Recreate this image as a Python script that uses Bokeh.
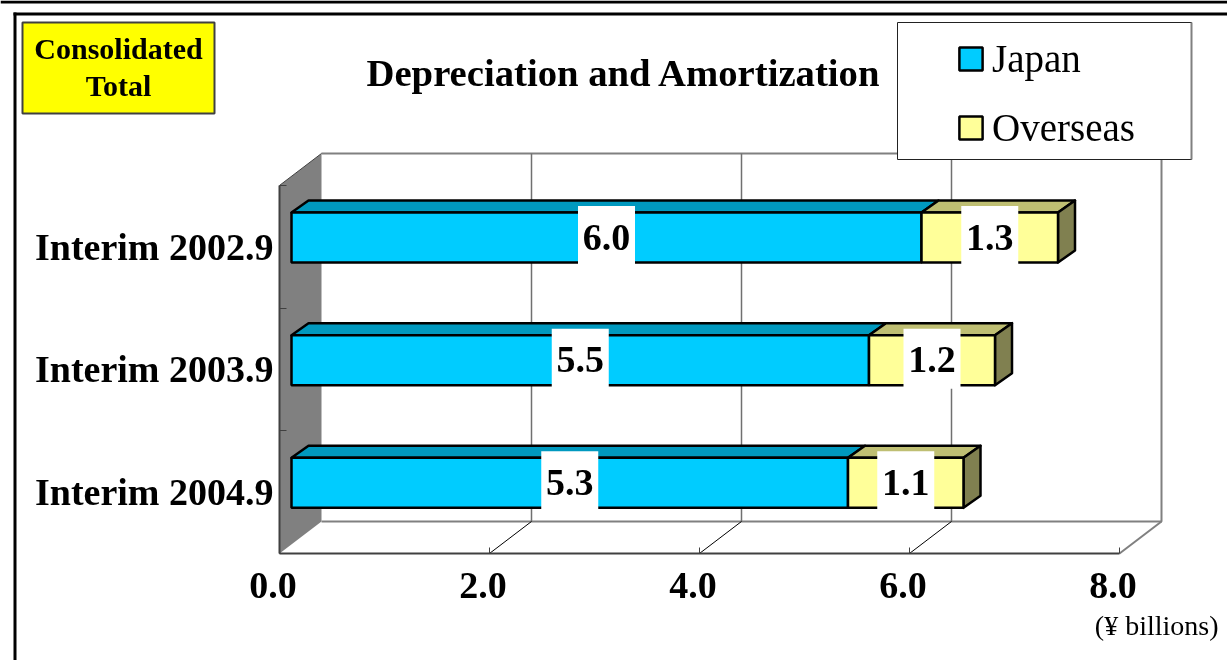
from bokeh.plotting import figure
from bokeh.embed import file_html
from bokeh.resources import INLINE
from bokeh.core.properties import value
from bokeh.models import (Range1d, LinearAxis, FixedTicker, NumeralTickFormatter,
                          Legend, LegendItem, ColumnDataSource)

# ---- data ----
periods = ["Interim 2002.9", "Interim 2003.9", "Interim 2004.9"]
japan = [6.0, 5.5, 5.3]
overseas = [1.3, 1.2, 1.1]
x_ticks = [0, 2, 4, 6, 8]
title_text = "Depreciation and Amortization"
badge_lines = ["Consolidated", "Total"]
unit_text = "(¥ billions)"

# ---- page-to-data mapping ----
W, H = 1227, 660
PX_X0, PX_PER_UNIT = 279.0, 105.0      # pixel of value 0, pixels per ¥ billion
PX_Y0, PX_PER_CAT = 246.3, 122.67      # pixel of first category, pixels per category
def X(px): return (px - PX_X0) / PX_PER_UNIT
def Y(px): return (px - PX_Y0) / PX_PER_CAT
def DX(px): return px / PX_PER_UNIT
def DY(px): return px / PX_PER_CAT

SERIF = "Liberation Serif"
FS = value(SERIF)
p = figure(width=W, height=H, output_backend="svg", toolbar_location=None,
           x_range=Range1d(X(0), X(W)), y_range=Range1d(Y(H), Y(0)),
           x_axis_type=None, y_axis_type=None, min_border=0,
           outline_line_color=None, background_fill_color="white",
           border_fill_color="white")
p.grid.visible = False
p.styles = {"position": "fixed", "left": "0", "top": "0"}

# page rules
for l, r, t, b in [(0, W, 0, 3), (13, W, 12, 15), (13, 16, 12, H)]:
    p.quad(left=X(l), right=X(r), top=Y(t), bottom=Y(b), fill_color="black", line_color=None)

# ---- 3D box ----
n = len(periods)
DEPTH_X, DEPTH_Y = 42, 32
AX_L, AX_B, AX_T = 0, n - 0.5, -0.5
GRAY = "#808080"
# left wall
p.patch([AX_L, AX_L + DX(DEPTH_X), AX_L + DX(DEPTH_X), AX_L],
        [AX_T, AX_T - DY(DEPTH_Y), AX_B - DY(DEPTH_Y), AX_B],
        fill_color=GRAY, line_color=None)
# back wall outline & floor edge
xb = [AX_L + DX(DEPTH_X), x_ticks[-1] + DX(DEPTH_X), x_ticks[-1] + DX(DEPTH_X), AX_L + DX(DEPTH_X)]
yb = [AX_T - DY(DEPTH_Y), AX_T - DY(DEPTH_Y), AX_B - DY(DEPTH_Y), AX_B - DY(DEPTH_Y)]
p.line(xb, yb, line_color=GRAY, line_width=2)
p.line([x_ticks[-1], x_ticks[-1] + DX(DEPTH_X)], [AX_B, AX_B - DY(DEPTH_Y)], line_color=GRAY, line_width=2)
p.line([AX_L, AX_L + DX(DEPTH_X)], [AX_T, AX_T - DY(DEPTH_Y)], line_color="#404040", line_width=1)
# gridlines on back wall and floor
inner = x_ticks[1:-1]
p.segment([v + DX(DEPTH_X) for v in inner], AX_T - DY(DEPTH_Y),
          [v + DX(DEPTH_X) for v in inner], AX_B - DY(DEPTH_Y), line_color="#707070", line_width=1.5)
p.segment(inner, AX_B, [v + DX(DEPTH_X) for v in inner], AX_B - DY(DEPTH_Y),
          line_color="black", line_width=1)

# ---- bars ----
BAR_DX, BAR_DY, BAR_HALF = 12, 9.3, 25
TOP_DX, TOP_DY = 17, 12
EDGE = 2.5
off = DX(BAR_DX)
lefts_j = [off for _ in japan]
rights_j = [off + v for v in japan]
rights_o = [r + v for r, v in zip(rights_j, overseas)]
cy = [i - DY(BAR_DY) for i in range(n)]
tops = [c - DY(BAR_HALF) for c in cy]
bots = [c + DY(BAR_HALF) for c in cy]
tx, ty = DX(TOP_DX), DY(TOP_DY)

def top_face(ls, rs):
    return ([[l, l + tx, r + tx, r] for l, r in zip(ls, rs)],
            [[t, t - ty, t - ty, t] for t in tops])

xs, ys = top_face(lefts_j, rights_j)
p.patches(xs, ys, fill_color="#0099BF", line_color="black", line_width=EDGE, line_join="round")
xs, ys = top_face(rights_j, rights_o)
p.patches(xs, ys, fill_color="#BFBF73", line_color="black", line_width=EDGE, line_join="round")
p.patches([[r, r + tx, r + tx, r] for r in rights_o],
          [[t, t - ty, b - ty, b] for t, b in zip(tops, bots)],
          fill_color="#808050", line_color="black", line_width=EDGE, line_join="round")
r_j = p.quad(left=lefts_j, right=rights_j, top=tops, bottom=bots,
             fill_color="#00CCFF", line_color="black", line_width=EDGE)
r_o = p.quad(left=rights_j, right=rights_o, top=tops, bottom=bots,
             fill_color="#FFFF99", line_color="black", line_width=EDGE)

# ---- value labels ----
lab_x = [(l + r) / 2 for l, r in zip(lefts_j, rights_j)] + [(l + r) / 2 for l, r in zip(rights_j, rights_o)]
lab_y = [c - DY(1.5) for c in cy + cy]
lab_t = [f"{v:.1f}" for v in japan + overseas]
src = ColumnDataSource(dict(x=lab_x, y=lab_y, t=lab_t))
p.rect("x", "y", width=57, height=60, width_units="screen", height_units="screen",
       fill_color="white", line_color=None, source=src)
p.text("x", "y", text="t", text_font=FS, text_font_style="bold", text_font_size="38px",
       text_align="center", text_baseline="middle", color="black", source=src, y_offset=1)

# ---- axes ----
ax_x = LinearAxis(fixed_location=AX_B, bounds=(0, 8), ticker=FixedTicker(ticks=x_ticks, minor_ticks=[]),
                  major_label_overrides={v: "" for v in x_ticks}, major_tick_in=6, major_tick_out=0,
                  axis_line_color="#404040", axis_line_width=2, major_tick_line_color="#404040",
                  major_tick_line_width=1, minor_tick_line_color=None)
p.add_layout(ax_x, "below")
LABEL_SHIFT = DX(6.5)
p.extra_x_ranges["labels"] = Range1d(X(0) + LABEL_SHIFT, X(W) + LABEL_SHIFT)
ax_lab = LinearAxis(x_range_name="labels", fixed_location=AX_B, ticker=FixedTicker(ticks=x_ticks, minor_ticks=[]),
                    formatter=NumeralTickFormatter(format="0.0"),
                    major_label_text_font=SERIF, major_label_text_font_style="bold",
                    major_label_text_font_size="38px", major_label_text_color="black",
                    major_label_standoff=20, major_tick_in=0, major_tick_out=0,
                    axis_line_color=None, major_tick_line_color=None, minor_tick_line_color=None)
p.add_layout(ax_lab, "below")
ax_y = LinearAxis(fixed_location=0, bounds=(AX_T, AX_B),
                  ticker=FixedTicker(ticks=list(range(n)), minor_ticks=[i - 0.5 for i in range(n + 1)]),
                  major_label_overrides={i: s for i, s in enumerate(periods)},
                  major_label_text_font=SERIF, major_label_text_font_style="bold",
                  major_label_text_font_size="38px", major_label_text_color="black",
                  major_label_standoff=6, major_tick_in=0, major_tick_out=0,
                  major_tick_line_color=None, minor_tick_in=7, minor_tick_out=0,
                  minor_tick_line_color="#404040", minor_tick_line_width=1,
                  axis_line_color="#404040", axis_line_width=2)
p.add_layout(ax_y, "left")

# ---- title, badge, unit ----
p.text([X(366)], [Y(72.5)], text=[title_text], text_font=FS, text_font_style="bold", text_font_size="38.7px",
       text_baseline="alphabetic", text_align="left", color="black")
p.quad(left=X(22), right=X(214), top=Y(22), bottom=Y(113), fill_color="#FFFF00",
       line_color="#404040", line_width=2)
p.text([X(118), X(118)], [Y(48), Y(85)], text=badge_lines, text_font=FS, text_font_style="bold",
       text_font_size="30px", text_align="center", text_baseline="alphabetic", color="black")
p.text([X(1218)], [Y(625)], text=[unit_text], text_font=FS, text_font_size="28px",
       text_align="right", text_baseline="alphabetic", color="black")

# ---- legend ----
p.quad(left=X(897), right=X(1191), top=Y(22), bottom=Y(159), fill_color="white",
       line_color="#222222", line_width=1)
p.line([X(1191), X(1191)], [Y(22), Y(159)], line_color="#808080", line_width=2)
legend = Legend(items=[LegendItem(label="Japan", renderers=[r_j]),
                       LegendItem(label="Overseas", renderers=[r_o])],
                location=(956, 510), orientation="vertical", padding=0, margin=0,
                border_line_color=None, background_fill_alpha=0,
                label_text_font=SERIF, label_text_font_size="39px", label_text_color="black",
                glyph_width=29, glyph_height=29, label_standoff=7, spacing=24)
p.add_layout(legend, "center")

open("out.html", "w").write(file_html(p, INLINE))
